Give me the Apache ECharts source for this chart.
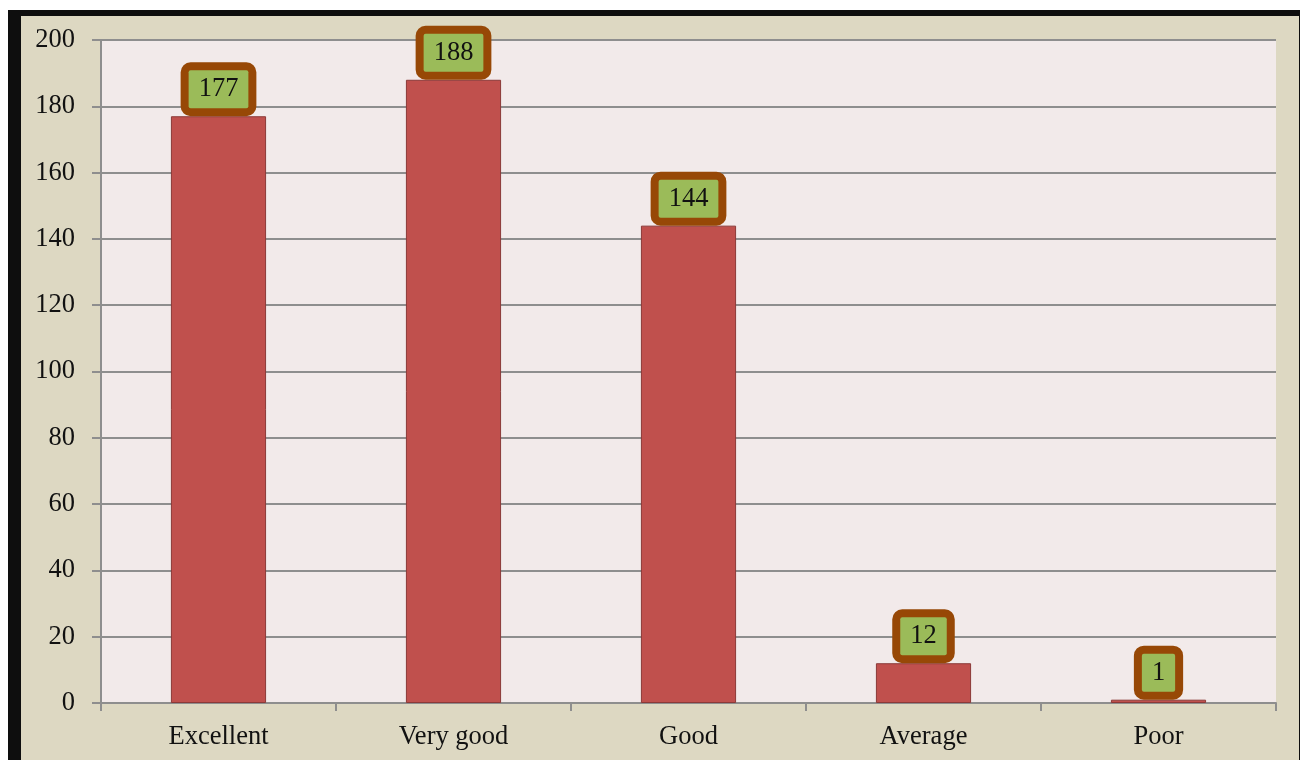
<!DOCTYPE html>
<html>
<head>
<meta charset="utf-8">
<script src="https://cdn.jsdelivr.net/npm/echarts@6/dist/echarts.min.js"></script>
<style>
  html, body { margin: 0; padding: 0; background: #ffffff; width: 1300px; height: 760px; overflow: hidden; }
  #frame { position: absolute; left: 8px; top: 10px; width: 1292px; height: 750px; background: #0e0e0e; }
  #chart { position: absolute; left: 13px; top: 6px; width: 1278px; height: 744px; background: #ddd8c2; }
</style>
</head>
<body>
<div id="frame"><div id="chart"></div></div>
<script>
const categories = ['Excellent', 'Very good', 'Good', 'Average', 'Poor'];
const counts = [177, 188, 144, 12, 1];
const yTicks = { min: 0, max: 200, interval: 20 };

const FONT = 'Liberation Serif';
const chart = echarts.init(document.getElementById('chart'));
chart.setOption({
  animation: false,
  grid: {
    left: 80, top: 24, right: 23, bottom: 57,
    show: true, backgroundColor: '#f2eaea', borderWidth: 0
  },
  xAxis: {
    type: 'category',
    data: categories,
    axisLine: { lineStyle: { color: '#8e8e8e', width: 2 } },
    axisTick: { show: true, length: 8, alignWithLabel: false, lineStyle: { color: '#8e8e8e', width: 2 } },
    axisLabel: { fontFamily: FONT, fontSize: 26.5, color: '#111', margin: 21 }
  },
  yAxis: {
    type: 'value',
    min: yTicks.min, max: yTicks.max, interval: yTicks.interval,
    axisLine: { show: true, lineStyle: { color: '#8e8e8e', width: 2 } },
    axisTick: { show: true, length: 9, lineStyle: { color: '#8e8e8e', width: 2 } },
    axisLabel: { fontFamily: FONT, fontSize: 26.5, color: '#111', margin: 26 },
    splitLine: { lineStyle: { color: '#8e8e8e', width: 2 } }
  },
  series: [{
    type: 'bar',
    data: counts,
    barWidth: '40.5%',
    itemStyle: { color: '#c0504d', borderColor: '#8b3a38', borderWidth: 1 },
    label: {
      show: true,
      position: 'top',
      distance: 8,
      fontFamily: FONT,
      fontSize: 26.5,
      lineHeight: 26,
      color: '#111',
      backgroundColor: '#9bbb59',
      borderColor: '#974806',
      borderWidth: 8,
      borderRadius: 2,
      padding: [6, 10]
    }
  }]
});
</script>
</body>
</html>
